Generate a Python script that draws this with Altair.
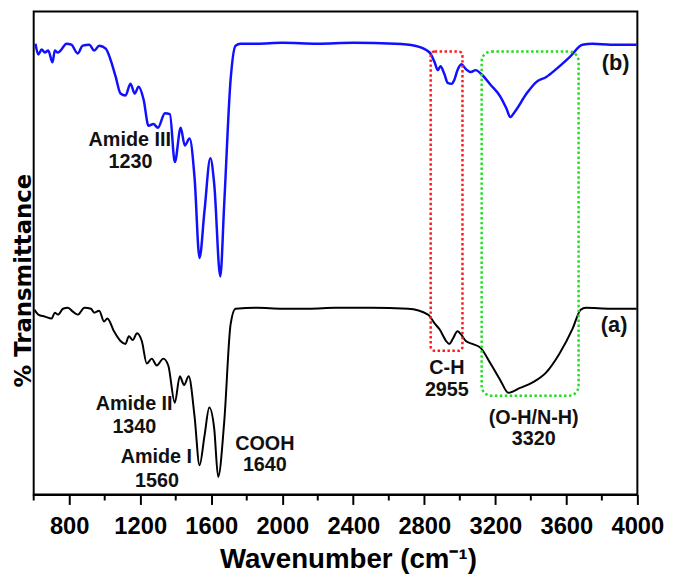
import altair as alt
import pandas as pd

# ---- Spectrum (b): blue, upper trace (wavenumber, arbitrary transmittance) ----
wn_b = [610, 626, 645, 663, 682, 706, 719, 736, 756, 784, 812, 848, 876, 913, 941, 969,
        1006, 1034, 1062, 1089, 1117, 1145, 1169, 1191, 1219, 1247, 1274, 1300, 1339, 1367,
        1395, 1428, 1451, 1478, 1506, 1534, 1562, 1595, 1617, 1651, 1673, 1709, 1737, 1765,
        1858, 2000, 2200, 2400, 2636, 2747, 2830, 2858, 2876, 2891, 2913, 2932, 2954, 2969,
        2987, 3009, 3034, 3062, 3089, 3126, 3173, 3228, 3262, 3284, 3312, 3376, 3432, 3487,
        3543, 3617, 3691, 3747, 3850, 3997]
t_b = [461, 450, 455, 452, 454, 442, 454, 452, 455, 461, 460, 451, 459, 460, 454, 459,
       456, 444, 427, 410, 408, 420, 410, 417, 404, 377, 379, 375, 390, 389,
       340, 375, 357, 364, 324, 242, 290, 344, 317, 223, 297, 424, 459, 461,
       461, 462, 461, 462, 461, 459, 452, 442, 434, 438, 430, 421, 420, 424,
       434, 440, 435, 432, 434, 429, 419, 407, 395, 386, 392, 410, 422, 427,
       435, 447, 460, 461, 460, 460]

# ---- Spectrum (a): black, lower trace ----
wn_a = [605, 626, 663, 701, 719, 737, 765, 793, 821, 848, 886, 923, 941, 969, 996, 1015,
        1052, 1089, 1117, 1136, 1158, 1182, 1209, 1237, 1265, 1293, 1330, 1358, 1395, 1423,
        1447, 1473, 1506, 1534, 1562, 1589, 1617, 1639, 1673, 1709, 1737, 1858, 2000, 2150,
        2300, 2500, 2709, 2821, 2858, 2886, 2923, 2941, 2960, 2987, 3006, 3034, 3071, 3117,
        3173, 3228, 3274, 3339, 3413, 3487, 3561, 3636, 3681, 3709, 3850, 3996]
t_a = [189, 184, 182, 180, 186, 184, 190, 191, 187, 184, 191, 190, 186, 188, 177, 180,
       167, 157, 154, 162, 158, 165, 157, 134, 139, 132, 139, 132, 94, 121,
       112, 121, 80, 30, 60, 89, 67, 18, 74, 174, 190, 191, 190, 190,
       191, 191, 190, 184, 175, 169, 157, 154, 159, 167, 164, 157, 154, 150,
       134, 117, 104, 109, 115, 125, 144, 170, 189, 191, 190, 190]

# ---- axis ticks ----
major_ticks = [800, 1200, 1600, 2000, 2400, 2800, 3200, 3600, 4000]
minor_ticks = [600, 1000, 1400, 1800, 2200, 2600, 3000, 3400, 3800]

# ---- peak annotations ----
ann_text = ["Amide III", "1230", "Amide II", "1340", "Amide I", "1560", "COOH", "1640",
            "C-H", "2955", "(O-H/N-H)", "3320"]
ann_x = [1141, 1145, 1166, 1167, 1291, 1294, 1902, 1902, 2927, 2927, 3416, 3416]
ann_y = [362, 340, 93, 69, 38, 14, 52, 30, 129, 107, 78, 57]

trace_text = ["(a)", "(b)"]
trace_x = [3869, 3877]
trace_y = [173, 441]

# ---- dotted highlight boxes ----
box_name = ["C-H", "OH/NH"]
box_x1 = [2836, 3123]
box_x2 = [3015, 3669]
box_y1 = [147, 101]
box_y2 = [453, 453]

W, H = 611, 489
xs = alt.Scale(domain=[600, 4000], nice=False, zero=False)
ys = alt.Scale(domain=[0, 494], nice=False, zero=False)

df_a = pd.DataFrame({"wn": wn_a, "t": t_a})
df_b = pd.DataFrame({"wn": wn_b, "t": t_b})
df_ann = pd.DataFrame({"text": ann_text, "wn": ann_x, "t": ann_y})
df_tr = pd.DataFrame({"text": trace_text, "wn": trace_x, "t": trace_y})
df_box = pd.DataFrame({"name": box_name, "wn": box_x1, "wn2": box_x2, "t": box_y1, "t2": box_y2})
df_minor = pd.DataFrame({"wn": minor_ticks})

x_axis = alt.Axis(
    values=major_ticks, format="d", title="Wavenumber (cm⁻¹)", grid=False,
    tickSize=10, tickWidth=2, tickColor="black", domainWidth=2, domainColor="black",
    labelFont="Liberation Sans", labelFontWeight="bold", labelFontSize=24,
    labelColor="black", labelPadding=10, labelFlush=False,
    titleFont="Liberation Sans", titleFontWeight="bold", titleFontSize=28,
    titleColor="black", titleX=318, titleY=74, titleBaseline="alphabetic",
    titleAlign="center",
)
y_axis = alt.Axis(
    title="% Transmittance", labels=False, ticks=False, domain=False, grid=False,
    minExtent=0, titleFont="DejaVu Sans", titleFontWeight="bold", titleFontSize=23,
    titleColor="black", titleX=-3, titleY=272, titleAngle=270,
    titleBaseline="alphabetic", titleAlign="center",
)

X = alt.X("wn:Q", scale=xs, axis=x_axis)
Y = alt.Y("t:Q", scale=ys, axis=y_axis)

line_a = alt.Chart(df_a).mark_line(color="black", strokeWidth=2, interpolate="monotone").encode(x=X, y=Y)
line_b = alt.Chart(df_b).mark_line(color="#1010ff", strokeWidth=2.5, interpolate="monotone").encode(x=X, y=Y)


def box(name, color, radius):
    return alt.Chart(df_box).transform_filter(alt.datum.name == name).mark_rect(
        fillOpacity=0, stroke=color, strokeWidth=2.5, strokeDash=[2.5, 2.5],
        cornerRadius=radius,
    ).encode(x=X, x2="wn2:Q", y=Y, y2="t2:Q")


box_red = box("C-H", "#ff1a1a", 4)
box_green = box("OH/NH", "#22dd22", 10)

ann = alt.Chart(df_ann).mark_text(
    font="Liberation Sans", fontWeight="bold", fontSize=20, color="#111111",
    align="center", baseline="middle",
).encode(x=X, y=Y, text="text:N")
tr = alt.Chart(df_tr).mark_text(
    font="Liberation Sans", fontWeight="bold", fontSize=22, color="#111111",
    align="center", baseline="middle",
).encode(x=X, y=Y, text="text:N")

minor = alt.Chart(df_minor).mark_rule(color="black", strokeWidth=2, clip=False).encode(
    x=X, y=alt.value(H), y2=alt.value(H + 6)
)

chart = alt.layer(line_a, line_b, box_red, box_green, ann, tr, minor).properties(
    width=W, height=H,
    autosize=alt.AutoSizeParams(type="none"),
    padding={"left": 26, "top": 0, "right": 30, "bottom": 84},
    background="white",
).configure_view(stroke="black", strokeWidth=2)

chart.save("out.html", embed_options={"renderer": "svg", "actions": False})
